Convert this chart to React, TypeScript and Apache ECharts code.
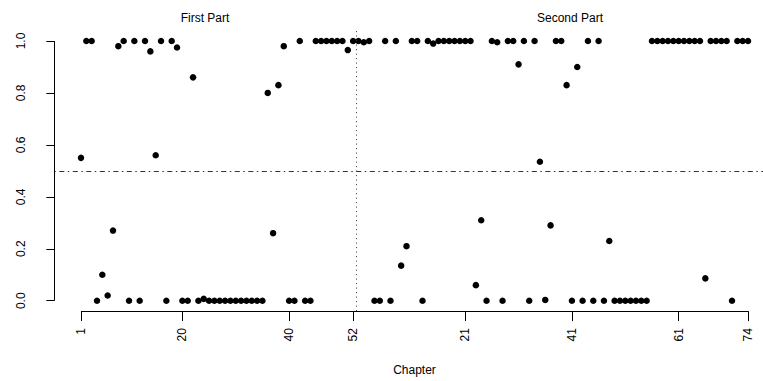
import React, { useEffect, useRef } from "react";
import * as echarts from "echarts";

// Proportions per chapter
const firstPartValues = [
  0.55, 1, 1, 0, 0.10, 0.02, 0.27, 0.98, 1, 0,
  1, 0, 1, 0.96, 0.56, 1, 0, 1, 0.975, 0,
  0, 0.86, 0, 0.007, 0, 0, 0, 0, 0, 0,
  0, 0, 0, 0, 0, 0.80, 0.26, 0.83, 0.98, 0,
  0, 1, 0, 0, 1, 1, 1, 1, 1, 1,
  0.965, 1,
];
const secondPartValues = [
  1, 0.995, 1, 0, 0, 1, 0, 1, 0.135, 0.21,
  1, 1, 0, 1, 0.99, 1, 1, 1, 1, 1,
  1, 1, 0.06, 0.31, 0, 1, 0.995, 0, 1, 1,
  0.91, 1, 0, 1, 0.535, 0.003, 0.29, 1, 1, 0.83,
  0, 0.90, 0, 1, 0, 1, 0, 0.23, 0, 0,
  0, 0, 0, 0, 0, 1, 1, 1, 1, 1,
  1, 1, 1, 1, 1, 0.086, 1, 1, 1, 1,
  0, 1, 1, 1,
];
const xTickPositions = [1, 20, 40, 52, 73, 93, 113, 126];
const xTickLabels = ["1", "20", "40", "52", "21", "41", "61", "74"];
const yTickValues = [0, 0.2, 0.4, 0.6, 0.8, 1.0];
const partTitles = ["First Part", "Second Part"];
const xAxisTitle = "Chapter";
const partBoundary = 52.5;
const threshold = 0.5;

const FONT = "'Liberation Sans', Arial, Helvetica, sans-serif";

export default function App() {
  const ref = useRef<HTMLDivElement>(null);
  useEffect(() => {
    if (!ref.current) return;
    const chart = echarts.init(ref.current, undefined, { renderer: "svg" });
    const n1 = firstPartValues.length;
    const data: number[][] = [];
    firstPartValues.forEach((v, i) => data.push([i + 1, v]));
    secondPartValues.forEach((v, i) => data.push([n1 + i + 1, v]));
    const total = data.length;
    const xMin = 1 - 0.04 * (total - 1);
    const xMax = total + 0.04 * (total - 1);
    const yMin = -0.04;
    const yMax = 1.04;
    const labelMap: Record<number, string> = {};
    xTickPositions.forEach((p, i) => (labelMap[p] = xTickLabels[i]));

    chart.setOption({
      animation: false,
      backgroundColor: "#ffffff",
      textStyle: { fontFamily: FONT },
      grid: { left: 54.3, top: 30.6, width: 720.4, height: 280.5 },
      xAxis: {
        type: "value",
        min: xMin,
        max: xMax,
        axisLine: { show: false, onZero: false },
        splitLine: { show: false },
        axisTick: {
          show: true,
          length: 10,
          customValues: xTickPositions,
          lineStyle: { color: "#000", width: 1 },
        },
        axisLabel: {
          customValues: xTickPositions,
          rotate: 90,
          margin: 17,
          fontSize: 12,
          color: "#000",
          fontFamily: FONT,
          formatter: (v: number) => labelMap[Math.round(v)] ?? "",
        },
      },
      yAxis: {
        type: "value",
        min: yMin,
        max: yMax,
        axisLine: { show: false, onZero: false },
        splitLine: { show: false },
        axisTick: {
          show: true,
          length: 8,
          customValues: yTickValues,
          lineStyle: { color: "#000", width: 1 },
        },
        axisLabel: {
          customValues: yTickValues,
          rotate: 90,
          margin: 27,
          fontSize: 12,
          color: "#000",
          fontFamily: FONT,
          formatter: (v: number) => v.toFixed(1),
        },
      },
      graphic: [
        {
          type: "text",
          x: 205,
          y: 18,
          style: { text: partTitles[0], fontSize: 12, fontFamily: FONT, fill: "#000", align: "center", verticalAlign: "middle" },
        },
        {
          type: "text",
          x: 570,
          y: 18,
          style: { text: partTitles[1], fontSize: 12, fontFamily: FONT, fill: "#000", align: "center", verticalAlign: "middle" },
        },
        {
          type: "text",
          x: 414.5,
          y: 370,
          style: { text: xAxisTitle, fontSize: 12, fontFamily: FONT, fill: "#000", align: "center", verticalAlign: "middle" },
        },
      ],
      series: [
        {
          type: "scatter",
          data,
          symbol: "circle",
          symbolSize: 6.5,
          itemStyle: { color: "#000", opacity: 1 },
          clip: false,
          markLine: {
            silent: true,
            symbol: ["none", "none"],
            label: { show: false },
            animation: false,
            data: [
              { yAxis: threshold, lineStyle: { color: "#333", width: 1, type: [1.5, 3.5, 5, 3.5] } },
              { xAxis: partBoundary, lineStyle: { color: "#333", width: 1, type: [1, 3.5] } },
              [
                { coord: [1, yMin], lineStyle: { color: "#000", width: 1, type: "solid" } },
                { coord: [total, yMin] },
              ],
              [
                { coord: [xMin, 0], lineStyle: { color: "#000", width: 1, type: "solid" } },
                { coord: [xMin, 1] },
              ],
            ],
          },
        },
      ],
    });
    return () => chart.dispose();
  }, []);
  return (
    <div style={{ position: "absolute", left: 0, top: 0, width: 763, height: 381, overflow: "hidden", background: "#fff" }}>
      <div ref={ref} style={{ position: "absolute", left: 0, top: 0, width: 800, height: 381 }} />
    </div>
  );
}
